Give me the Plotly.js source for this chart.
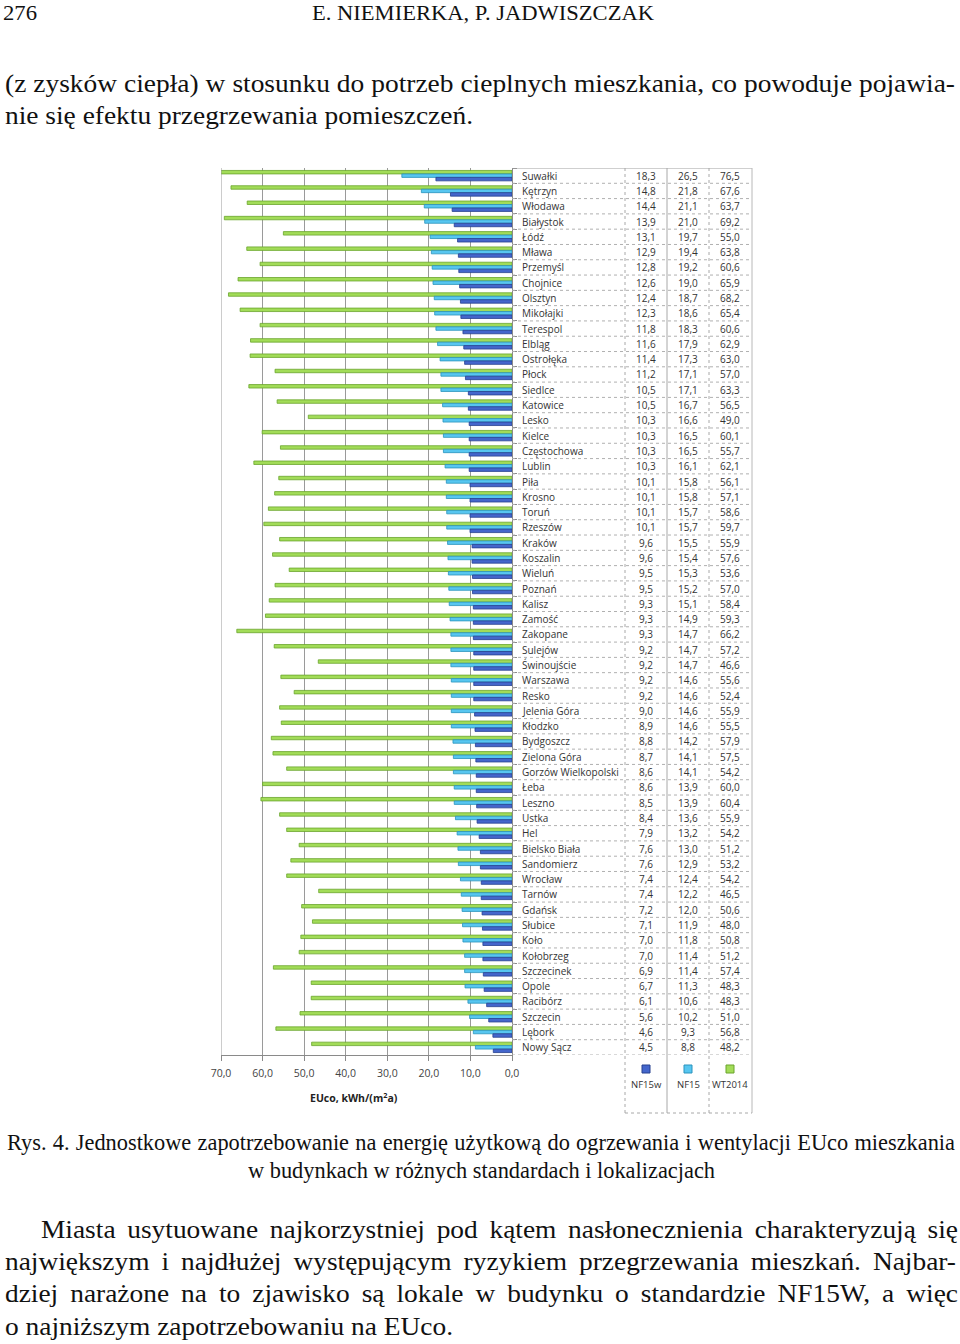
<!DOCTYPE html>
<html><head><meta charset="utf-8">
<script src="https://cdn.plot.ly/plotly-3.0.1.min.js"></script>
<style>
html,body{margin:0;padding:0;background:#fff;}
#page{position:relative;width:960px;height:1344px;overflow:hidden;background:#fff;}
#chart{position:absolute;left:0;top:0;width:960px;height:1344px;}
.ln{position:absolute;white-space:nowrap;font-family:"Liberation Serif","Times New Roman",serif;color:#111;transform-origin:0 0;line-height:1.1;}
</style></head><body>
<div id="page"><div id="chart"></div><div id="text"></div></div>
<script>
// ---------- chart data ----------
const cities = ["Suwałki","Kętrzyn","Włodawa","Białystok","Łódź","Mława","Przemyśl","Chojnice","Olsztyn","Mikołajki",
"Terespol","Elbląg","Ostrołęka","Płock","Siedlce","Katowice","Lesko","Kielce","Częstochowa","Lublin",
"Piła","Krosno","Toruń","Rzeszów","Kraków","Koszalin","Wieluń","Poznań","Kalisz","Zamość",
"Zakopane","Sulejów","Świnoujście","Warszawa","Resko","Jelenia Góra","Kłodzko","Bydgoszcz","Zielona Góra","Gorzów Wielkopolski",
"Łeba","Leszno","Ustka","Hel","Bielsko Biała","Sandomierz","Wrocław","Tarnów","Gdańsk","Słubice",
"Koło","Kołobrzeg","Szczecinek","Opole","Racibórz","Szczecin","Lębork","Nowy Sącz"];
const nf15w = [18.3,14.8,14.4,13.9,13.1,12.9,12.8,12.6,12.4,12.3,
11.8,11.6,11.4,11.2,10.5,10.5,10.3,10.3,10.3,10.3,
10.1,10.1,10.1,10.1,9.6,9.6,9.5,9.5,9.3,9.3,
9.3,9.2,9.2,9.2,9.2,9.0,8.9,8.8,8.7,8.6,
8.6,8.5,8.4,7.9,7.6,7.6,7.4,7.4,7.2,7.1,
7.0,7.0,6.9,6.7,6.1,5.6,4.6,4.5];
const nf15 = [26.5,21.8,21.1,21.0,19.7,19.4,19.2,19.0,18.7,18.6,
18.3,17.9,17.3,17.1,17.1,16.7,16.6,16.5,16.5,16.1,
15.8,15.8,15.7,15.7,15.5,15.4,15.3,15.2,15.1,14.9,
14.7,14.7,14.7,14.6,14.6,14.6,14.6,14.2,14.1,14.1,
13.9,13.9,13.6,13.2,13.0,12.9,12.4,12.2,12.0,11.9,
11.8,11.4,11.4,11.3,10.6,10.2,9.3,8.8];
const wt2014 = [76.5,67.6,63.7,69.2,55.0,63.8,60.6,65.9,68.2,65.4,
60.6,62.9,63.0,57.0,63.3,56.5,49.0,60.1,55.7,62.1,
56.1,57.1,58.6,59.7,55.9,57.6,53.6,57.0,58.4,59.3,
66.2,57.2,46.6,55.6,52.4,55.9,55.5,57.9,57.5,54.2,
60.0,60.4,55.9,54.2,51.2,53.2,54.2,46.5,50.6,48.0,
50.8,51.2,57.4,48.3,48.3,51.0,56.8,48.2];
const seriesNames = ["NF15w","NF15","WT2014"];
const axisTitle = "EUco, kWh/(m<sup>2</sup>a)";

// ---------- styling ----------
const W = 960, H = 1344;
const px = v => v / W;              // paper x from pixel
const py = v => 1 - v / H;          // paper y from pixel
const fills = {NF15w:"#4466cc", NF15:"#57c6f0", WT2014:"#a2dc58"};
const edges = {NF15w:"#27408f", NF15:"#2a93bd", WT2014:"#6aa42c"};
const tFont = "Open Sans, Liberation Sans, sans-serif";
const fmt = v => v.toFixed(1).replace(".", ",");

// order: green drawn first -> top of each group on reversed axis
const order = [["WT2014", wt2014], ["NF15", nf15], ["NF15w", nf15w]];
const traces = order.map(([name, vals]) => ({
  type: "bar", orientation: "h", name: name, x: vals, y: cities,
  marker: {color: fills[name], line: {color: edges[name], width: 0.8}},
  hoverinfo: "skip"
}));

const tableTop = 168, tableBot = 1055, legBot = 1113;
const colX = [646, 688, 730];
const annotations = [];
const shapes = [];
const valueCols = [nf15w, nf15, wt2014];

cities.forEach((c, i) => {
  annotations.push({xref: "paper", yref: "y", x: px(520), y: c, text: c, showarrow: false,
    xanchor: "left", yanchor: "middle", font: {family: tFont, size: 10, color: "#333"}});
  valueCols.forEach((col, k) => {
    annotations.push({xref: "paper", yref: "y", x: px(colX[k]), y: c, text: fmt(col[i]), showarrow: false,
      xanchor: "center", yanchor: "middle", font: {family: tFont, size: 10, color: "#333"}});
  });
  shapes.push({type: "line", xref: "paper", yref: "y", x0: px(512), x1: px(752), y0: i + 0.5, y1: i + 0.5,
    line: {color: "#b0b0b0", width: 1, dash: "dot"}});
});
// table top
shapes.push({type: "line", xref: "paper", yref: "y", x0: px(512), x1: px(752), y0: -0.5, y1: -0.5,
  line: {color: "#a0a0a0", width: 1}});
// vertical table lines
[[625, "dot", "#a8a8a8"], [667, "solid", "#a8a8a8"], [709, "dot", "#a8a8a8"], [752, "solid", "#b8b8b8"]].forEach(([x, d, col]) => {
  shapes.push({type: "line", xref: "paper", yref: "paper", x0: px(x), x1: px(x), y0: py(tableTop), y1: py(legBot),
    line: {color: col, width: 1, dash: d}});
});
shapes.push({type: "line", xref: "paper", yref: "paper", x0: px(625), x1: px(752), y0: py(legBot), y1: py(legBot),
  line: {color: "#a8a8a8", width: 1, dash: "dot"}});
// legend (custom, in table cells)
seriesNames.forEach((n, k) => {
  shapes.push({type: "rect", xref: "paper", yref: "paper", x0: px(colX[k] - 4), x1: px(colX[k] + 4),
    y0: py(1073), y1: py(1065), fillcolor: fills[n], line: {color: edges[n], width: 1}});
  annotations.push({xref: "paper", yref: "paper", x: px(colX[k]), y: py(1084), text: n, showarrow: false,
    xanchor: "center", yanchor: "middle", font: {family: tFont, size: 9.5, color: "#333"}});
});
// left boundary gridline at 70
shapes.push({type: "line", xref: "x", yref: "paper", x0: 70, x1: 70, y0: py(tableBot), y1: py(tableTop),
  line: {color: "#9a9a9a", width: 1}});
// axis title
annotations.push({xref: "paper", yref: "paper", x: px(354), y: py(1097), text: "<b>" + axisTitle + "</b>", showarrow: false,
  xanchor: "center", yanchor: "middle", font: {family: tFont, size: 10.5, color: "#222"}});

const layout = {
  width: W, height: H, margin: {l: 0, r: 0, t: 0, b: 0, pad: 0},
  paper_bgcolor: "rgba(0,0,0,0)", plot_bgcolor: "#fff",
  barmode: "group", bargap: 0.32, bargroupgap: 0, separators: ", ", showlegend: false,
  xaxis: {domain: [px(221), px(512)], range: [70, 0], autorange: false, tick0: 0, dtick: 10, tickformat: ".1f",
    showgrid: true, gridcolor: "#9a9a9a", gridwidth: 1, zeroline: false, showline: true, linecolor: "#8a8a8a",
    ticks: "outside", ticklen: 5, tickcolor: "#8a8a8a", ticklabelstandoff: 3,
    tickfont: {family: tFont, size: 10.5, color: "#444"}, fixedrange: true},
  yaxis: {domain: [py(tableBot), py(tableTop)], type: "category", range: [cities.length - 0.5, -0.5], autorange: false,
    side: "right", showticklabels: false, ticks: "outside", ticklen: 4, tickson: "boundaries", tickcolor: "#8a8a8a",
    showline: true, linecolor: "#8a8a8a", showgrid: false, fixedrange: true},
  shapes: shapes, annotations: annotations
};
Plotly.newPlot("chart", traces, layout, {staticPlot: true, displayModeBar: false});

// ---------- page text ----------
const textLines = [
  {id: "h1", t: "276", l: 3, r: 37, b: 21, s: 21, m: "fit"},
  {id: "h2", t: "E. NIEMIERKA, P. JADWISZCZAK", l: 312, r: 654, b: 21, s: 21, m: "fit"},
  {id: "p1b", t: "nie się efektu przegrzewania pomieszczeń.", l: 5, r: 473, b: 125, s: 26, m: "fit"},
  {id: "p1a", t: "(z zysków ciepła) w stosunku do potrzeb cieplnych mieszkania, co powoduje pojawia-", l: 5, r: 955, b: 93, s: 26, m: "just", ref: "p1b"},
  {id: "c2", t: "w budynkach w różnych standardach i lokalizacjach", l: 248, r: 715, b: 1178, s: 23, m: "fit"},
  {id: "c1", t: "Rys. 4. Jednostkowe zapotrzebowanie na energię użytkową do ogrzewania i wentylacji EUco mieszkania", l: 7, r: 955, b: 1150, s: 23, m: "just", ref: "c2"},
  {id: "q4", t: "o najniższym zapotrzebowaniu na EUco.", l: 5, r: 453, b: 1336, s: 26, m: "fit"},
  {id: "q1", t: "Miasta usytuowane najkorzystniej pod kątem nasłonecznienia charakteryzują się", l: 41, r: 958, b: 1239, s: 26, m: "just", ref: "q4"},
  {id: "q2", t: "największym i najdłużej występującym ryzykiem przegrzewania mieszkań. Najbar-", l: 5, r: 956, b: 1271, s: 26, m: "just", ref: "q4"},
  {id: "q3", t: "dziej narażone na to zjawisko są lokale w budynku o standardzie NF15W, a więc", l: 5, r: 958, b: 1303, s: 26, m: "just", ref: "q4"}
];
const holder = document.getElementById("text");
const scales = {};
textLines.forEach(L => {
  const d = document.createElement("div");
  d.className = "ln";
  d.textContent = L.t;
  d.style.fontSize = L.s + "px";
  d.style.left = L.l + "px";
  d.style.top = Math.max(1, L.b - 0.888 * L.s) + "px";
  holder.appendChild(d);
  const nat = d.getBoundingClientRect().width;
  const target = L.r - L.l;
  let sc;
  if (L.m === "fit") {
    sc = target / nat;
  } else {
    sc = scales[L.ref] || 1;
    const spaces = (L.t.match(/ /g) || []).length;
    const extra = (target / sc - nat) / Math.max(spaces, 1);
    if (extra >= 0) {
      d.style.wordSpacing = extra + "px";
    } else {
      sc = target / nat;
    }
  }
  scales[L.id] = sc;
  d.style.transform = "scaleX(" + sc + ")";
});
</script>
</body></html>
